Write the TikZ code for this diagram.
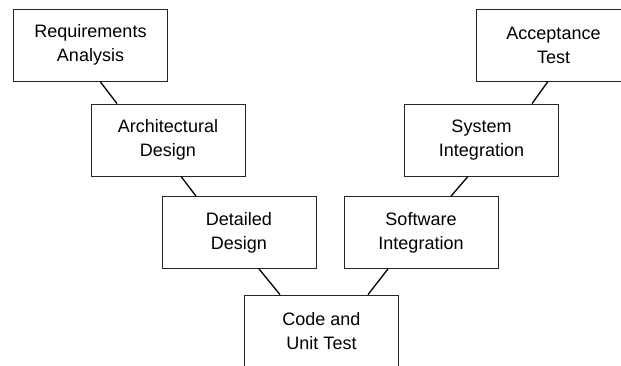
\documentclass[tikz,border=0pt]{standalone}
\usepackage{fontspec}
\setmainfont{Liberation Sans}
\usetikzlibrary{calc}

\begin{document}
\begin{tikzpicture}[x=1pt,y=-1pt,
    stage/.style={draw=black!85,line width=0.8pt,fill=white,minimum width=154pt,
        minimum height=72pt,inner sep=0pt,align=center,
        font=\fontsize{18}{24}\selectfont},
    link/.style={black,line width=1.3pt}]
    \clip (0,0) rectangle (621,365);
    \fill[white] (0,0) rectangle (621,365);
    % left leg of the V
    \node[stage] (req) at (90.5,45){Requirements\\Analysis};
    \node[stage] (arch) at (168,140){Architectural\\Design};
    \node[stage] (det) at (239,232.5){Detailed\\Design};
    % bottom
    \node[stage] (code) at (321.5,331){Code and\\Unit Test};
    % right leg of the V
    \node[stage] (soft) at (421,232.5){Software\\Integration};
    \node[stage] (sys) at (481.5,140){System\\Integration};
    \node[stage] (acc) at (553.5,45){Acceptance\\Test};
    \draw[link] ([xshift=9.5pt]req.south) -- ([xshift=-51pt]arch.north);
    \draw[link] ([xshift=13pt]arch.south) -- ([xshift=-43pt]det.north);
    \draw[link] ([xshift=20pt]det.south) -- ([xshift=-41.5pt]code.north);
    \draw[link] ([xshift=46.5pt]code.north) -- ([xshift=-33pt]soft.south);
    \draw[link] ([xshift=30pt]soft.north) -- ([xshift=-13.5pt]sys.south);
    \draw[link] ([xshift=50.5pt]sys.north) -- ([xshift=-5.5pt]acc.south);
\end{tikzpicture}
\end{document}
